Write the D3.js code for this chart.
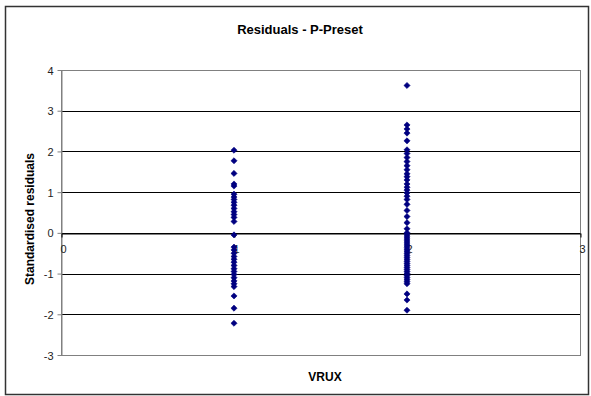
<!DOCTYPE html>
<html>
<head>
<meta charset="utf-8">
<script src="https://cdn.jsdelivr.net/npm/d3@7"></script>
<style>
  body { margin: 0; background: #fff; }
  svg { display: block; font-family: "Liberation Sans", Arial, sans-serif; }
</style>
</head>
<body>
<svg id="chart" width="591" height="396"></svg>
<script>
(function() {

  const title = "Residuals - P-Preset";
  const xLabel = "VRUX";
  const yLabel = "Standardised residuals";

  const xTicks = [0, 1, 2, 3];
  const yTicks = [-3, -2, -1, 0, 1, 2, 3, 4];

  // residuals for VRUX = 1
  const resid1 = [2.03, 1.77, 1.46, 1.20, 1.15, 0.95, 0.88, 0.82, 0.75, 0.68,
    0.60, 0.52, 0.45, 0.38, 0.28, -0.05, -0.35, -0.42, -0.50, -0.58, -0.65,
    -0.72, -0.80, -0.88, -0.95, -1.02, -1.10, -1.18, -1.25, -1.32, -1.55,
    -1.85, -2.22];

  // residuals for VRUX = 2
  const resid2 = [3.62, 2.65, 2.55, 2.45, 2.26, 2.04, 1.95, 1.85, 1.75, 1.65,
    1.55, 1.45, 1.38, 1.30, 1.20, 1.12, 1.05, 0.98, 0.90, 0.82, 0.70, 0.55,
    0.40, 0.25, 0.10, 0.00, -0.05, -0.10, -0.15, -0.20, -0.25, -0.30, -0.35,
    -0.40, -0.45, -0.50, -0.55, -0.60, -0.65, -0.70, -0.75, -0.80, -0.85,
    -0.90, -0.95, -1.00, -1.05, -1.10, -1.15, -1.20, -1.25, -1.50, -1.65,
    -1.90];

  const points = resid1.map(v => ({ x: 1, y: v }))
    .concat(resid2.map(v => ({ x: 2, y: v })));

  const INK = "#000";
  const MARK = "#000080";
  const plot = { left: 61, right: 580, top: 70, bottom: 355 };
  const fmt = d => String(d); // plain hyphen minus, like the original

  const svg = d3.select("#chart");

  // chart frame
  svg.append("rect")
    .attr("x", 5.5).attr("y", 6.5)
    .attr("width", 583).attr("height", 388)
    .attr("fill", "#fff")
    .attr("stroke", "#333")
    .attr("stroke-width", 1.5);

  const x = d3.scaleLinear().domain([0, 3]).range([plot.left, plot.right]);
  const y = d3.scaleLinear().domain([-3, 4]).range([plot.bottom, plot.top]);

  // horizontal gridlines
  svg.append("g")
    .selectAll("line")
    .data(yTicks.filter(t => t > -3 && t < 4))
    .join("line")
    .attr("x1", plot.left).attr("x2", plot.right)
    .attr("y1", d => Math.round(y(d)) + 0.5)
    .attr("y2", d => Math.round(y(d)) + 0.5)
    .attr("stroke", INK)
    .attr("stroke-width", 1);

  // plot area border
  svg.append("rect")
    .attr("x", plot.left + 0.5).attr("y", plot.top + 0.5)
    .attr("width", plot.right - plot.left)
    .attr("height", plot.bottom - plot.top)
    .attr("fill", "none")
    .attr("stroke", "#808080");

  // y axis
  const yAxis = svg.append("g")
    .attr("transform", `translate(${plot.left + 0.5},0.5)`)
    .call(d3.axisLeft(y).tickValues(yTicks).tickFormat(fmt)
      .tickSize(4).tickSizeOuter(0));
  yAxis.select(".domain").attr("stroke", "#808080");
  yAxis.selectAll(".tick line").attr("stroke", "#808080")
    .attr("transform", "translate(0,-0.5)");
  yAxis.selectAll(".tick text")
    .attr("font-family", "Liberation Sans, Arial, sans-serif")
    .attr("font-size", 11)
    .attr("fill", "#222")
    .attr("x", -8);

  // x axis crosses at y = 0
  const xAxis = svg.append("g")
    .attr("transform", `translate(0.5,${Math.round(y(0)) + 0.5})`)
    .call(d3.axisBottom(x).tickValues(xTicks).tickFormat(fmt)
      .tickSize(4).tickSizeOuter(0));
  xAxis.select(".domain").attr("stroke", INK);
  xAxis.selectAll(".tick line").attr("stroke", INK);
  xAxis.selectAll(".tick text")
    .attr("font-family", "Liberation Sans, Arial, sans-serif")
    .attr("font-size", 11)
    .attr("fill", "#222")
    .attr("y", 12)
    .attr("dy", "0.71em")
    .attr("dx", "0.15em");

  // diamond markers
  const diamond = d3.symbol().type(d3.symbolDiamond2).size(24);
  svg.append("g")
    .selectAll("path")
    .data(points)
    .join("path")
    .attr("d", diamond)
    .attr("transform", d => `translate(${x(d.x)},${y(d.y)})`)
    .attr("fill", MARK)
    .attr("stroke", MARK)
    .attr("stroke-width", 0.6);

  // titles
  svg.append("text")
    .attr("x", 300).attr("y", 34)
    .attr("text-anchor", "middle")
    .attr("font-size", 13)
    .attr("font-weight", "bold")
    .attr("fill", INK)
    .text(title);

  svg.append("text")
    .attr("x", 325).attr("y", 381)
    .attr("text-anchor", "middle")
    .attr("font-size", 12)
    .attr("font-weight", "bold")
    .attr("fill", INK)
    .text(xLabel);

  svg.append("text")
    .attr("transform", "translate(34,219) rotate(-90)")
    .attr("text-anchor", "middle")
    .attr("font-size", 12)
    .attr("font-weight", "bold")
    .attr("fill", INK)
    .text(yLabel);

})();
</script>
</body>
</html>
